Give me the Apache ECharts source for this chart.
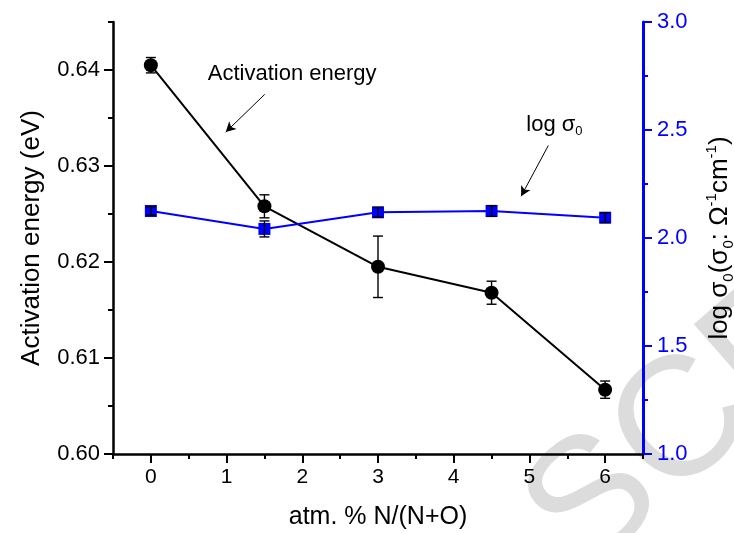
<!DOCTYPE html>
<html>
<head>
<meta charset="utf-8">
<script src="https://cdn.jsdelivr.net/npm/echarts@6/dist/echarts.min.js"></script>
<style>
html, body { margin: 0; padding: 0; background: #fff; }
#chart { width: 734px; height: 533px; }
</style>
</head>
<body>
<div id="chart"></div>
<script>
// values
var nContent = [0, 1.5, 3, 4.5, 6];
var energy = [0.6405, 0.6258, 0.6195, 0.6168, 0.6067];
var energyErr = [0.0008, 0.0012, 0.0032, 0.0012, 0.0009];
var logSigma = [2.125, 2.042, 2.119, 2.125, 2.094];
var logSigmaErr = [0.02, 0.037, 0.022, 0.025, 0.022];

var xTicks = [0, 1, 2, 3, 4, 5, 6];
var energyTicks = [0.60, 0.61, 0.62, 0.63, 0.64];

var FONT = 'Liberation Sans';

function pairs(xs, ys) {
  return xs.map(function (x, i) { return [x, ys[i]]; });
}
function triples(xs, ys, es) {
  return xs.map(function (x, i) { return [x, ys[i], es[i]]; });
}

function errorBar(params, api) {
  var x = api.value(0), y = api.value(1), e = api.value(2);
  var hi = api.coord([x, y + e]);
  var lo = api.coord([x, y - e]);
  var w = 5;
  var st = { stroke: '#000', lineWidth: 1.4 };
  return {
    type: 'group',
    children: [
      { type: 'line', shape: { x1: hi[0], y1: hi[1], x2: lo[0], y2: lo[1] }, style: st },
      { type: 'line', shape: { x1: hi[0] - w, y1: hi[1], x2: hi[0] + w, y2: hi[1] }, style: st },
      { type: 'line', shape: { x1: lo[0] - w, y1: lo[1], x2: lo[0] + w, y2: lo[1] }, style: st }
    ]
  };
}

var chart = echarts.init(document.getElementById('chart'));

var option = {
  animation: false,
  backgroundColor: '#fff',
  textStyle: { fontFamily: FONT },
  grid: { left: 113, right: 91, top: 22, bottom: 79, containLabel: false, outerBoundsMode: 'none' },
  graphic: [{
    type: 'text',
    x: 552, y: 542,
    rotation: 0.72,
    z: -10,
    silent: true,
    style: {
      text: 'SCRIPT',
      font: '170px ' + FONT,
      fill: '#dcdcdc',
      align: 'left',
      verticalAlign: 'middle'
    }
  }],
  xAxis: [{
    type: 'value',
    min: -0.5,
    max: 6.5,
    splitNumber: 7,
    position: 'bottom',
    name: 'atm. % N/(N+O)',
    nameLocation: 'middle',
    nameGap: 51,
    nameTextStyle: { fontSize: 25, color: '#000', fontFamily: FONT },
    axisLine: { onZero: false, lineStyle: { color: '#000', width: 2.5 } },
    axisTick: { customValues: xTicks, length: 9, lineStyle: { color: '#000', width: 2 } },
    axisLabel: {
      customValues: xTicks,
      margin: 13, fontSize: 21, color: '#000', fontFamily: FONT
    },
    splitLine: { show: false }
  }, {
    type: 'value',
    min: -0.5,
    max: 6.5,
    interval: 0.5,
    position: 'bottom',
    axisLine: { show: false, onZero: false },
    axisTick: { length: 5, lineStyle: { color: '#000', width: 2 } },
    axisLabel: { show: false },
    splitLine: { show: false }
  }],
  yAxis: [{
    type: 'value',
    min: 0.60,
    max: 0.645,
    position: 'left',
    name: 'Activation energy (eV)',
    nameLocation: 'middle',
    nameRotate: 90,
    nameGap: 68,
    nameTextStyle: { fontSize: 26, color: '#000', fontFamily: FONT },
    axisLine: { show: true, onZero: false, lineStyle: { color: '#000', width: 2.5 } },
    axisTick: { show: true, customValues: energyTicks, length: 9, lineStyle: { color: '#000', width: 2 } },
    axisLabel: {
      customValues: energyTicks,
      margin: 13, fontSize: 22, color: '#000', fontFamily: FONT,
      formatter: function (v) { return v.toFixed(2); }
    },
    splitLine: { show: false }
  }, {
    type: 'value',
    min: 0.60,
    max: 0.645,
    interval: 0.005,
    position: 'left',
    axisLine: { show: false, onZero: false },
    axisTick: { show: true, length: 5, lineStyle: { color: '#000', width: 2 } },
    axisLabel: { show: false },
    splitLine: { show: false }
  }, {
    type: 'value',
    min: 1,
    max: 3,
    interval: 0.5,
    position: 'right',
    name: '{m|log σ}{s|0}{m|(σ}{s|0}{m|: Ω}{p|-1}{m|cm}{p|-1}{m|)}',
    nameLocation: 'middle',
    nameRotate: 90,
    nameGap: 61,
    nameTextStyle: {
      color: '#000',
      rich: {
        m: { fontSize: 26, lineHeight: 32, color: '#000', fontFamily: FONT },
        s: { fontSize: 15, lineHeight: 15, verticalAlign: 'bottom', color: '#000', fontFamily: FONT },
        p: { fontSize: 15, lineHeight: 15, verticalAlign: 'top', color: '#000', fontFamily: FONT }
      }
    },
    axisLine: { show: true, onZero: false, lineStyle: { color: '#0000ff', width: 3 } },
    axisTick: { show: true, length: 9, lineStyle: { color: '#0000ff', width: 2 } },
    minorTick: { show: true, splitNumber: 2, length: 5, lineStyle: { color: '#0000ff', width: 2 } },
    axisLabel: {
      margin: 14, fontSize: 22, color: '#0000ff', fontFamily: FONT,
      formatter: function (v) { return v.toFixed(1); }
    },
    splitLine: { show: false }
  }],
  series: [{
    name: 'Activation energy',
    type: 'line',
    xAxisIndex: 0,
    yAxisIndex: 0,
    data: pairs(nContent, energy),
    symbol: 'circle',
    symbolSize: 14,
    itemStyle: { color: '#000' },
    lineStyle: { color: '#000', width: 2 },
    z: 3,
    markLine: {
      silent: true,
      symbol: ['none', 'arrow'],
      symbolSize: [8, 10],
      label: { show: false },
      lineStyle: { color: '#000', width: 1, type: 'solid' },
      data: [
        [{ coord: [1.504, 0.63746] }, { coord: [0.989, 0.63353] }],
        [{ coord: [5.25, 0.63214] }, { coord: [4.89, 0.62685] }]
      ]
    },
    markPoint: {
      silent: true,
      symbol: 'rect',
      symbolSize: 1,
      itemStyle: { color: 'rgba(0,0,0,0)' },
      label: {
        show: true,
        position: 'inside',
        color: '#000',
        fontFamily: FONT,
        formatter: function (p) { return p.name; },
        rich: {
          m: { fontSize: 22, lineHeight: 26, color: '#000', fontFamily: FONT },
          s: { fontSize: 13, lineHeight: 13, verticalAlign: 'bottom', color: '#000', fontFamily: FONT }
        }
      },
      data: [
        { name: '{m|Activation energy}', coord: [1.867, 0.63955] },
        { name: '{m|log σ}{s|0}', coord: [5.33, 0.63423] }
      ]
    }
  }, {
    name: 'log sigma0',
    type: 'line',
    xAxisIndex: 0,
    yAxisIndex: 2,
    data: pairs(nContent, logSigma),
    symbol: 'rect',
    symbolSize: 12,
    itemStyle: { color: '#0000ff' },
    lineStyle: { color: '#0000ff', width: 2 },
    z: 3
  }, {
    type: 'custom',
    xAxisIndex: 0,
    yAxisIndex: 0,
    renderItem: errorBar,
    data: triples(nContent, energy, energyErr),
    encode: { x: 0, y: 1 },
    z: 5
  }, {
    type: 'custom',
    xAxisIndex: 0,
    yAxisIndex: 2,
    renderItem: errorBar,
    data: triples(nContent, logSigma, logSigmaErr),
    encode: { x: 0, y: 1 },
    z: 5
  }]
};

chart.setOption(option);
</script>
</body>
</html>
